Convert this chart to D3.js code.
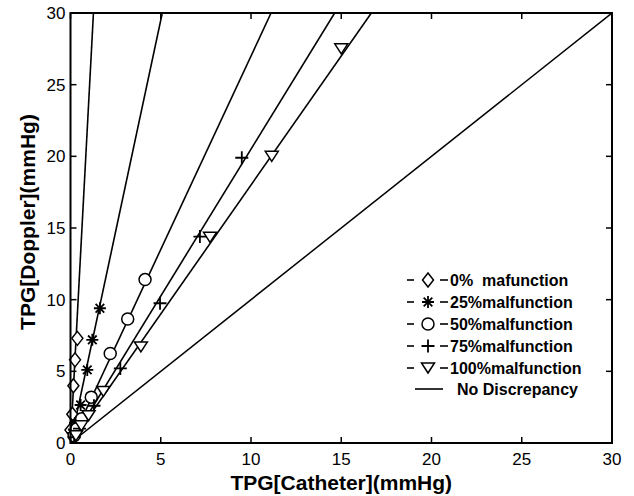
<!DOCTYPE html>
<html><head><meta charset="utf-8">
<script src="https://cdn.jsdelivr.net/npm/d3@7"></script>
<style>html,body{margin:0;padding:0;background:#fff;}svg{display:block;}</style>
</head><body>
<script>
// ---- data ----
const xTicks = [0, 5, 10, 15, 20, 25, 30];
const yTicks = [0, 5, 10, 15, 20, 25, 30];
const seriesNames = ["0%  mafunction", "25%malfunction", "50%malfunction", "75%malfunction", "100%malfunction"];
const seriesMarkers = ["diamond", "asterisk", "circle", "plus", "triangle"];
const lineSlopes = [23.6, 5.9, 2.70, 2.05, 1.80];
const identityName = "No Discrepancy";
const identityLine = [[0, 0], [30, 30]];

const s0X = [0.0, 0.1, 0.16, 0.25, 0.38];
const s0Y = [0.9, 2.0, 4.0, 5.8, 7.3];
const s25X = [0.12, 0.25, 0.56, 0.93, 1.21, 1.63];
const s25Y = [0.7, 1.4, 2.65, 5.1, 7.2, 9.4];
const s50X = [0.2, 0.35, 0.62, 1.15, 2.2, 3.17, 4.13];
const s50Y = [0.5, 1.0, 1.7, 3.2, 6.25, 8.65, 11.4];
const s75X = [0.2, 0.5, 1.3, 2.76, 4.96, 7.17, 9.49];
const s75Y = [0.4, 1.0, 2.6, 5.2, 9.75, 14.4, 19.9];
const s100X = [0.3, 0.6, 1.0, 1.82, 3.9, 7.73, 11.15, 15.0];
const s100Y = [0.5, 1.2, 1.9, 3.6, 6.7, 14.35, 20.0, 27.5];

const seriesX = [s0X, s25X, s50X, s75X, s100X];
const seriesY = [s0Y, s25Y, s50Y, s75Y, s100Y];

(function () {
// ---- layout ----
const W = 634, H = 496;
const pL = 70.5, pR = 612, pT = 13, pB = 443;
const x = d3.scaleLinear().domain([0, 30]).range([pL, pR]);
const y = d3.scaleLinear().domain([0, 30]).range([pB, pT]);

const svg = d3.select("body").append("svg").attr("width", W).attr("height", H)
  .style("font-family", "'Liberation Sans', Arial, sans-serif");

svg.append("defs").append("clipPath").attr("id", "plotclip")
  .append("rect").attr("x", pL).attr("y", pT).attr("width", pR - pL).attr("height", pB - pT);

function markerPath(type, s) {
  const p = d3.path();
  if (type === "diamond") {
    const a = 5.5 * s, b = 7 * s;
    p.moveTo(0, -b); p.lineTo(a, 0); p.lineTo(0, b); p.lineTo(-a, 0); p.closePath();
  } else if (type === "circle") {
    p.moveTo(6 * s, 0); p.arc(0, 0, 6 * s, 0, 2 * Math.PI);
  } else if (type === "triangle") {
    const a = 6.5 * s, h = 10 * s;
    p.moveTo(-a, -h / 2); p.lineTo(a, -h / 2); p.lineTo(0, h / 2); p.closePath();
  } else if (type === "plus") {
    const a = 6.5 * s;
    p.moveTo(-a, 0); p.lineTo(a, 0); p.moveTo(0, -a); p.lineTo(0, a);
  } else if (type === "asterisk") {
    const a = 6 * s, d = 4.3 * s;
    p.moveTo(-a, 0); p.lineTo(a, 0); p.moveTo(0, -a); p.lineTo(0, a);
    p.moveTo(-d, -d); p.lineTo(d, d); p.moveTo(-d, d); p.lineTo(d, -d);
  }
  return p.toString();
}
function drawMarker(g, type, cx, cy, s) {
  const filled = (type === "diamond" || type === "circle" || type === "triangle");
  g.append("path").attr("d", markerPath(type, s)).attr("transform", `translate(${cx},${cy})`)
    .attr("fill", filled ? "#fff" : "none").attr("stroke", "#000")
    .attr("stroke-width", type === "asterisk" || type === "plus" ? 1.8 : 1.5);
}

const plot = svg.append("g").attr("clip-path", "url(#plotclip)");
const line = d3.line().x(d => x(d[0])).y(d => y(d[1]));

plot.append("path").attr("d", line(identityLine)).attr("fill", "none").attr("stroke", "#000").attr("stroke-width", 1.5);

lineSlopes.forEach(k => {
  plot.append("path").attr("d", line([[0, 0], [30 / k, 30]]))
    .attr("fill", "none").attr("stroke", "#000").attr("stroke-width", 1.6);
});

const mk = svg.append("g");
seriesX.forEach((xs, i) => {
  xs.forEach((xv, j) => drawMarker(mk, seriesMarkers[i], x(xv), y(seriesY[i][j]), 1));
});

svg.append("rect").attr("x", pL).attr("y", pT).attr("width", pR - pL).attr("height", pB - pT)
  .attr("fill", "none").attr("stroke", "#000").attr("stroke-width", 2);

const tl = 6;
const axisG = svg.append("g").attr("stroke", "#000").attr("stroke-width", 1.5);
xTicks.forEach(t => {
  axisG.append("line").attr("x1", x(t)).attr("x2", x(t)).attr("y1", pB).attr("y2", pB - tl);
  axisG.append("line").attr("x1", x(t)).attr("x2", x(t)).attr("y1", pT).attr("y2", pT + tl);
});
yTicks.forEach(t => {
  axisG.append("line").attr("y1", y(t)).attr("y2", y(t)).attr("x1", pL).attr("x2", pL + tl);
  axisG.append("line").attr("y1", y(t)).attr("y2", y(t)).attr("x1", pR).attr("x2", pR - tl);
});

svg.append("g").selectAll("text").data(xTicks).join("text")
  .attr("x", d => x(d)).attr("y", pB + 22).attr("text-anchor", "middle")
  .attr("font-size", 17).text(d => d);
svg.append("g").selectAll("text").data(yTicks).join("text")
  .attr("x", pL - 5).attr("y", d => y(d) + 6).attr("text-anchor", "end")
  .attr("font-size", 17).text(d => d);

svg.append("text").attr("x", (pL + pR) / 2).attr("y", 490).attr("text-anchor", "middle")
  .attr("font-size", 21).attr("font-weight", "bold").text("TPG[Catheter](mmHg)");
svg.append("text").attr("transform", `translate(35,222) rotate(-90)`).attr("text-anchor", "middle")
  .attr("font-size", 21).attr("font-weight", "bold").text("TPG[Doppler](mmHg)");

const lg = svg.append("g");
const rowY = [280, 302, 324, 346, 368];
seriesNames.forEach((name, i) => {
  const cy = rowY[i];
  lg.append("line").attr("x1", 407).attr("x2", 414).attr("y1", cy).attr("y2", cy).attr("stroke", "#000").attr("stroke-width", 1.6);
  lg.append("line").attr("x1", 440).attr("x2", 448).attr("y1", cy).attr("y2", cy).attr("stroke", "#000").attr("stroke-width", 1.6);
  drawMarker(lg, seriesMarkers[i], 428, cy, 1);
  lg.append("text").attr("x", 450).attr("y", cy + 6).attr("font-size", 16).attr("font-weight", "bold")
    .style("white-space", "pre").attr("xml:space", "preserve").text(name);
});
lg.append("line").attr("x1", 415).attr("x2", 443).attr("y1", 389).attr("y2", 389).attr("stroke", "#000").attr("stroke-width", 1.6);
lg.append("text").attr("x", 457).attr("y", 395).attr("font-size", 16).attr("font-weight", "bold").text(identityName);
})();
</script>
</body></html>
